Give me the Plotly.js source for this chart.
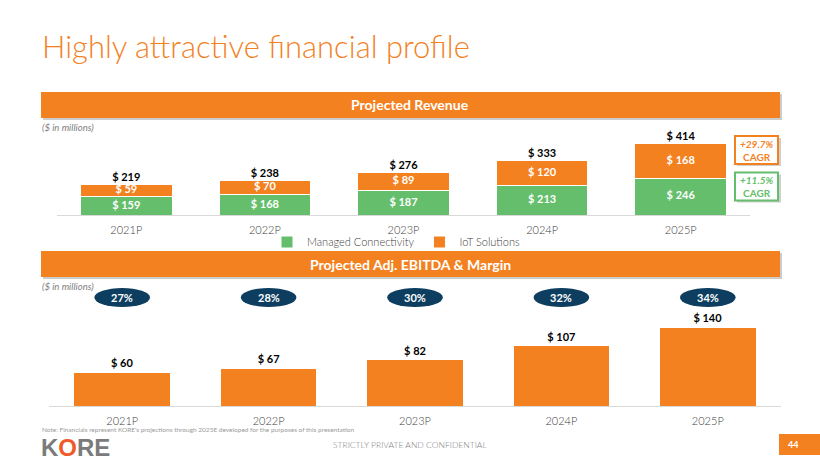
<!DOCTYPE html>
<html>
<head>
<meta charset="utf-8">
<script src="https://cdn.plot.ly/plotly-3.0.1.min.js"></script>
<style>html,body{margin:0;padding:0;background:#fff;}#chart{width:820px;height:461px;}</style>
</head>
<body>
<div id="chart"></div>
<script>
// ---- data ----
const years = ['2021P', '2022P', '2023P', '2024P', '2025P'];
const managedConnectivity = [159, 168, 187, 213, 246];
const iotSolutions = [59, 70, 89, 120, 168];
const revenueTotal = [219, 238, 276, 333, 414];
const ebitda = [60, 67, 82, 107, 140];
const ebitdaMargin = [27, 28, 30, 32, 34];
const cagrIoT = '+29.7%';
const cagrManaged = '+11.5%';

// ---- style ----
const ORANGE = '#F4811F';
const GREEN = '#64BE6B';
const NAVY = '#0D3E5F';
const GREY = '#404040';
const FONT = 'Lato, "Open Sans", sans-serif';
const W = 820, H = 461;
const py = v => 1 - v / H;
const px = v => v / W;
const REV_MIN = 72;
const money = v => '$ ' + v;

const greenMid = managedConnectivity.map(v => (Math.max(REV_MIN, 0) + v) / 2);
const orangeMid = managedConnectivity.map((v, i) => v + iotSolutions[i] / 2);

const traces = [
  {type: 'bar', name: 'Managed Connectivity', x: years, y: managedConnectivity,
   marker: {color: GREEN, line: {color: '#ffffff', width: 1}}, width: 0.66,
   xaxis: 'x', yaxis: 'y', hoverinfo: 'skip'},
  {type: 'bar', name: 'IoT Solutions', x: years, y: iotSolutions,
   marker: {color: ORANGE, line: {color: '#ffffff', width: 1}}, width: 0.66,
   xaxis: 'x', yaxis: 'y', hoverinfo: 'skip'},
  {type: 'scatter', mode: 'text', x: years, y: greenMid, text: managedConnectivity.map(money),
   textposition: 'middle center', textfont: {family: FONT, size: 11, color: '#ffffff', weight: 700},
   showlegend: false, xaxis: 'x', yaxis: 'y', cliponaxis: false, hoverinfo: 'skip'},
  {type: 'scatter', mode: 'text', x: years, y: orangeMid, text: iotSolutions.map(money),
   textposition: 'middle center', textfont: {family: FONT, size: 11, color: '#ffffff', weight: 700},
   showlegend: false, xaxis: 'x', yaxis: 'y', cliponaxis: false, hoverinfo: 'skip'},
  {type: 'scatter', mode: 'text', x: years, y: revenueTotal, text: revenueTotal.map(money),
   textposition: 'top center', textfont: {family: FONT, size: 11, color: '#000000', weight: 700},
   showlegend: false, xaxis: 'x', yaxis: 'y', cliponaxis: false, hoverinfo: 'skip'},
  {type: 'bar', name: 'Adj. EBITDA', x: years, y: ebitda, width: 0.66,
   marker: {color: ORANGE, line: {color: '#ffffff', width: 1}},
   text: ebitda.map(money), textposition: 'outside', constraintext: 'none', cliponaxis: false,
   textfont: {family: FONT, size: 11, color: '#000000', weight: 700},
   showlegend: false, xaxis: 'x2', yaxis: 'y2', hoverinfo: 'skip'}
];

const shapes = [];
const annotations = [];

// header bars with shadow
[[92, 118, 'Projected Revenue'], [251, 277, 'Projected Adj. EBITDA & Margin']].forEach(h => {
  shapes.push({type: 'rect', xref: 'paper', yref: 'paper', x0: px(43), x1: px(782), y0: py(h[0] + 2), y1: py(h[1] + 2),
    fillcolor: '#cccccc', line: {width: 0}, layer: 'below'});
  shapes.push({type: 'rect', xref: 'paper', yref: 'paper', x0: px(41), x1: px(780), y0: py(h[0]), y1: py(h[1]),
    fillcolor: ORANGE, line: {width: 0}, layer: 'below'});
  annotations.push({xref: 'paper', yref: 'paper', x: px(410), y: py((h[0] + h[1]) / 2), xanchor: 'center', yanchor: 'middle',
    text: '<b>' + h[2] + '</b>', showarrow: false, font: {family: FONT, size: 14, color: '#ffffff'}});
});

// ($ in millions)
[127, 286].forEach(y => annotations.push({xref: 'paper', yref: 'paper', x: px(40), y: py(y), xanchor: 'left', yanchor: 'middle',
  text: '<i>($ in millions)</i>', showarrow: false, font: {family: FONT, size: 9.5, color: '#808080'}}));

// CAGR boxes
[[cagrIoT, ORANGE, 150], [cagrManaged, GREEN, 186.5]].forEach(c => {
  shapes.push({type: 'rect', xref: 'paper', yref: 'paper', x0: px(737), x1: px(781), y0: py(c[2] - 12), y1: py(c[2] + 16),
    fillcolor: '#cfcfcf', line: {width: 0}});
  shapes.push({type: 'rect', xref: 'paper', yref: 'paper', x0: px(735), x1: px(778), y0: py(c[2] - 14), y1: py(c[2] + 14),
    fillcolor: '#ffffff', line: {color: c[1], width: 2}});
  annotations.push({xref: 'paper', yref: 'paper', x: px(756.5), y: py(c[2]), xanchor: 'center', yanchor: 'middle',
    text: '<b><i>' + c[0] + '</i></b><br><b>CAGR</b>', showarrow: false,
    font: {family: FONT, size: 10, color: c[1]}});
});

// margin ellipses
ebitdaMargin.forEach((m, i) => {
  shapes.push({type: 'circle', xref: 'x2', yref: 'paper', x0: i - 0.19, x1: i + 0.19, y0: py(307), y1: py(288),
    fillcolor: NAVY, line: {width: 0}});
  annotations.push({xref: 'x2', yref: 'paper', x: years[i], y: py(297.5), xanchor: 'center', yanchor: 'middle',
    text: '<b>' + m + '%</b>', showarrow: false, font: {family: FONT, size: 11, color: '#ffffff'}});
});

// footer
annotations.push({xref: 'paper', yref: 'paper', x: px(40), y: py(429), xanchor: 'left', yanchor: 'middle',
  text: 'Note: Financials represent KORE\u2019s projections through 2025E developed for the purposes of this presentation',
  showarrow: false, font: {family: FONT, size: 6.5, color: '#9a9a9a'}});
annotations.push({xref: 'paper', yref: 'paper', x: px(410), y: py(445), xanchor: 'center', yanchor: 'middle',
  text: 'STRICTLY PRIVATE AND CONFIDENTIAL', showarrow: false, font: {family: FONT, size: 8.5, color: '#808080', weight: 300}});
shapes.push({type: 'rect', xref: 'paper', yref: 'paper', x0: px(779), x1: 1, y0: py(455), y1: py(434),
  fillcolor: ORANGE, line: {width: 0}});
annotations.push({xref: 'paper', yref: 'paper', x: px(793), y: py(444.5), xanchor: 'center', yanchor: 'middle',
  text: '<b>44</b>', showarrow: false, font: {family: FONT, size: 9, color: '#ffffff'}});
annotations.push({xref: 'paper', yref: 'paper', x: px(39), y: py(447.5), xanchor: 'left', yanchor: 'middle',
  text: '<b><span style="color:#7b7b7b">K</span><span style="color:#F05A28">O</span><span style="color:#7b7b7b">RE</span></b>',
  showarrow: false, font: {family: '"Liberation Sans", Arial, sans-serif', size: 24, color: '#7b7b7b'}});

const axisCommon = {type: 'category', showgrid: false, zeroline: false, showline: true, linecolor: '#d9d9d9', linewidth: 1,
  ticks: '', ticklabelstandoff: 5, tickfont: {family: FONT, size: 11, color: GREY, weight: 300}, fixedrange: true};

const layout = {
  width: W, height: H, margin: {l: 0, r: 0, t: 0, b: 0},
  paper_bgcolor: '#ffffff', plot_bgcolor: 'rgba(0,0,0,0)',
  barmode: 'stack', showlegend: true,
  title: {text: 'Highly attractive financial profile', x: px(42), xanchor: 'left', xref: 'paper',
    y: py(47), yanchor: 'middle', yref: 'container', font: {family: FONT, size: 31, color: ORANGE, weight: 300}},
  legend: {orientation: 'h', traceorder: 'normal', x: px(396), xanchor: 'center', y: py(242), yanchor: 'middle',
    font: {family: FONT, size: 11, color: GREY, weight: 300}, itemwidth: 30, tracegroupgap: 0, bgcolor: 'rgba(0,0,0,0)'},
  xaxis: Object.assign({}, axisCommon, {domain: [px(57), px(750)], anchor: 'y'}),
  yaxis: {domain: [py(215), py(128)], range: [REV_MIN, REV_MIN + 87 / 0.21], visible: false, fixedrange: true, anchor: 'x'},
  xaxis2: Object.assign({}, axisCommon, {domain: [px(49), px(781)], anchor: 'y2'}),
  yaxis2: {domain: [py(406), py(300)], range: [0, 106 / 0.564], visible: false, fixedrange: true, anchor: 'x2'},
  shapes: shapes,
  annotations: annotations
};

Plotly.newPlot('chart', traces, layout, {staticPlot: true, displayModeBar: false});
</script>
</body>
</html>
